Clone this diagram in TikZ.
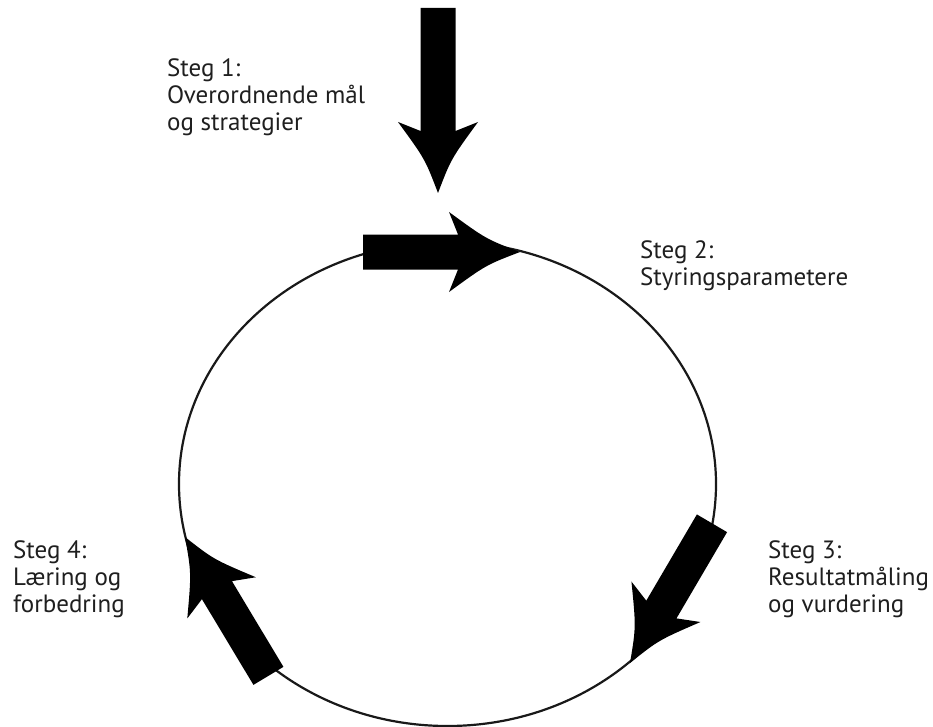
\documentclass[tikz,border=0pt]{standalone}
\usepackage{fontspec}
\setmainfont{PT Sans}
\begin{document}
\begin{tikzpicture}[x=1pt,y=-1pt,
  lbl/.style={anchor=base west,align=left,inner sep=0pt,
    font=\fontsize{25}{27}\selectfont,text=black!88},
  pics/bigarrow/.style={code={
    \fill[black] (0,0) .. controls (-34,-13) .. (-71,-40) -- (-62,-17.5)
      -- (-#1,-17.5) -- (-#1,17.5) -- (-62,17.5) -- (-71,40)
      .. controls (-34,13) .. (0,0) -- cycle;
  }}]
\useasboundingbox (0,0) rectangle (933,727);
\clip (0,0) rectangle (933,727);
\fill[white] (0,0) rectangle (933,727);
% cycle
\draw[line width=2.2pt,black!90] (447.5,484) ellipse [x radius=268.5,y radius=242];
% arrows
\pic[rotate=-90] at (438,193) {bigarrow=185};
\pic at (520,252) {bigarrow=157};
\pic[rotate=239.6] at (630,663) {bigarrow=162};
\pic[rotate=121] at (185,537) {bigarrow=162};
% labels (anchored at the baseline of the last line)
\node[lbl] (s1) at (167,131) {Steg 1:\\Overordnende mål\\og strategier};
\node[lbl] (s2) at (640,285) {Steg 2:\\Styringsparametere};
\node[lbl] (s3) at (768,612) {Steg 3:\\Resultatmåling\\og vurdering};
\node[lbl] (s4) at (13,612) {Steg 4:\\Læring og\\forbedring};
\end{tikzpicture}
\end{document}
